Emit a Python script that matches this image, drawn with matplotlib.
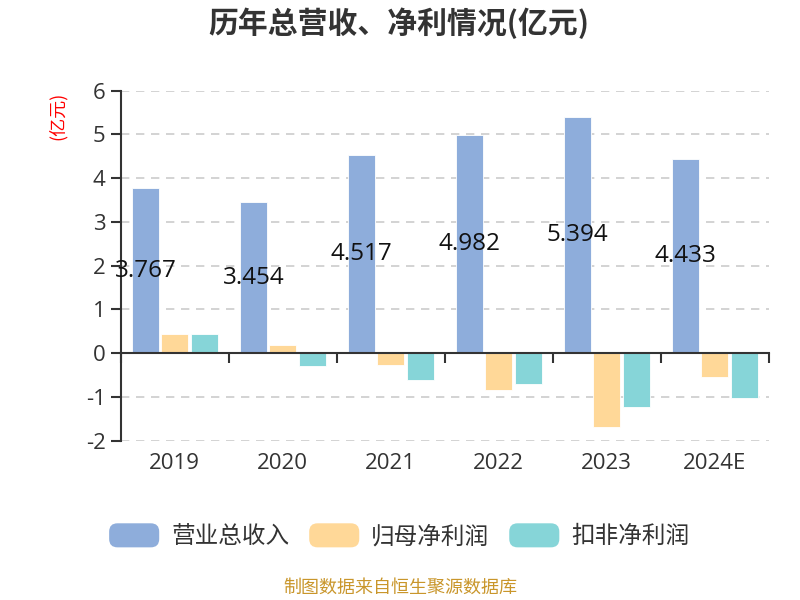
import matplotlib
matplotlib.use("Agg")
import matplotlib.pyplot as plt
import numpy as np
from matplotlib.patches import FancyBboxPatch, Patch
from matplotlib.legend_handler import HandlerPatch

plt.rcParams['font.family'] = ['Noto Sans CJK SC', 'DejaVu Sans']
plt.rcParams['axes.unicode_minus'] = False
NUM_FONT = ['Open Sans', 'Noto Sans CJK SC', 'DejaVu Sans']

years = ["2019", "2020", "2021", "2022", "2023", "2024E"]
revenue = [3.767, 3.454, 4.517, 4.982, 5.394, 4.433]
net_profit = [0.43, 0.18, -0.28, -0.85, -1.69, -0.55]
deducted_profit = [0.43, -0.29, -0.61, -0.71, -1.22, -1.02]
series_names = ["营业总收入", "归母净利润", "扣非净利润"]
colors = ["#8EADDB", "#FFD898", "#86D5D8"]

fig = plt.figure(figsize=(8, 6), dpi=100)
ax = fig.add_axes([0.151, 0.2655, 0.81, 0.5835])

x = np.arange(len(years))
w = 0.247
step = 0.272
for i, (vals, c) in enumerate(zip([revenue, net_profit, deducted_profit], colors)):
    ax.bar(x + (i - 1) * step, vals, width=w, color=c, edgecolor='white', linewidth=0.6,
           label=series_names[i], zorder=3)

for xi, v in zip(x, revenue):
    ax.text(xi - step, v / 2, f"{v:.3f}", ha='center', va='center', fontsize=17.5,
            color='#111111', zorder=5, family=NUM_FONT)

ymin, ymax = -2, 6
ax.set_ylim(ymin, ymax)
ax.set_xlim(-0.5, len(years) - 0.5)
ax.set_yticks(range(ymin, ymax + 1))
ax.tick_params(axis='y', labelsize=16, colors='#333333', length=7, width=1.5, direction='out', pad=4)
ax.set_xticks(x)
ax.set_xticklabels(years)
ax.tick_params(axis='x', labelsize=16, colors='#333333', length=0, pad=9)
for lab in ax.get_xticklabels() + ax.get_yticklabels():
    lab.set_family(NUM_FONT)
ax.yaxis.grid(True, linestyle=(0, (5, 4)), color='#CCCCCC', linewidth=1.2, zorder=0)
for s in ['top', 'right', 'bottom']:
    ax.spines[s].set_visible(False)
ax.spines['left'].set_color('#333333')
ax.spines['left'].set_linewidth(1.5)

# zero axis with category boundary ticks
sec = ax.secondary_xaxis((0 - ymin) / (ymax - ymin))
sec.set_xticks(np.arange(-0.5, len(years), 1.0))
sec.tick_params(length=7, width=1.5, color='#333333', labelbottom=False, direction='out')
sec.spines['bottom'].set_color('#333333')
sec.spines['bottom'].set_linewidth(1.5)
sec.set_zorder(4)

fig.text(0.0725, 0.807, "(亿元)", rotation=90, color='red', fontsize=13, ha='center', va='center')
fig.text(0.499, 0.962, "历年总营收、净利情况(亿元)", fontsize=21.5, fontweight='bold',
         color='#333333', ha='center', va='center')


class RoundHandler(HandlerPatch):
    def create_artists(self, legend, orig_handle, xdescent, ydescent, width, height, fontsize, trans):
        p = FancyBboxPatch((-xdescent, -ydescent), width, height,
                           boxstyle="round,pad=0,rounding_size=6",
                           facecolor=orig_handle.get_facecolor(), edgecolor='none',
                           transform=trans)
        return [p]


handles = [Patch(facecolor=c) for c in colors]
leg = fig.legend(handles, series_names, loc='center', bbox_to_anchor=(0.499, 0.107), ncol=3,
                 frameon=False, fontsize=17, handlelength=2.12, handleheight=1.19,
                 handletextpad=0.5, columnspacing=0.85,
                 handler_map={Patch: RoundHandler()})
for t in leg.get_texts():
    t.set_color('#333333')

fig.text(0.5, 0.02, "制图数据来自恒生聚源数据库", color='#C9962B', fontsize=13,
         ha='center', va='center')

fig.savefig("out.png", dpi=100)
